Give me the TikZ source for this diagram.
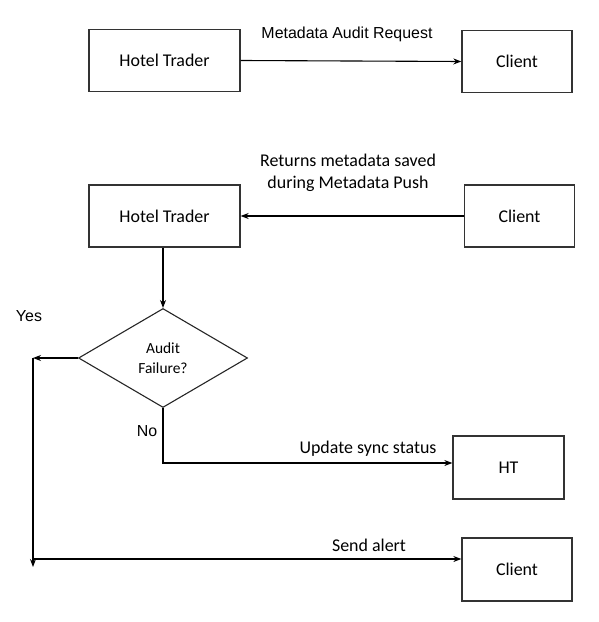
\documentclass[tikz,border=0pt]{standalone}
\usepackage{fontspec}
\setmainfont{Carlito}
\newfontfamily\arialfont{Liberation Sans}
\usetikzlibrary{arrows.meta,shapes.geometric}

\begin{document}
\begin{tikzpicture}[
  x=1bp, y=-1bp,
  every node/.style={font=\fontsize{18}{22}\selectfont, inner sep=0pt},
  actor/.style={draw=black!80, line width=1.3bp, minimum width=110bp, minimum height=62bp},
  wide/.style={actor, minimum width=151bp},
  decision/.style={draw=black!85, line width=1.1bp, diamond, minimum width=169bp, minimum height=99bp,
    font=\fontsize{15.5}{20}\selectfont, align=center},
  msg/.style={anchor=base},
  arial/.style={anchor=base, font=\arialfont\fontsize{16}{19}\selectfont},
  flow/.style={line width=1.1bp, -{Stealth[length=8bp,width=6bp]}},
  >=Stealth
]
\useasboundingbox (0,0) rectangle (599,622);

\node[wide]  (ht1) at (164.5,60.5) {Hotel Trader};
\node[actor] (cl1) at (517,61.5)   {Client};
\node[arial] (req) at (347,38.5)   {Metadata Audit Request};

\draw[flow] (ht1.east) -- (cl1.west);

\node[wide]  (ht2) at (164.5,216) {Hotel Trader};
\node[actor] (cl2) at (519.5,216) {Client};
\node[align=center] (ret) at (348,173) {Returns metadata saved\\during Metadata Push};

\draw[flow] (cl2.west) -- (ht2.east);

\node[decision] (audit) at (163,358) {Audit\\Failure?};
\draw[flow] (ht2.south -| audit.north) -- (audit.north);

\node[arial] (yes) at (29,321)  {Yes};
\node[arial] (no)  at (147,436) {No};

\coordinate (ytop) at (33,358);
\coordinate (ybot) at (33,559);
\coordinate (ncorner) at (163,463);

\node[actor, minimum width=111bp, minimum height=63bp] (ht3) at (508.5,467.5) {HT};
\node[actor, minimum height=63bp] (cl3) at (517,569.5) {Client};

\node[msg] (upd)   at (368,453) {Update sync status};
\node[msg] (alert) at (369,551) {Send alert};

% yes branch
\draw[flow] (audit.west) -- (ytop);
\draw[flow] (ytop) -- (33,567);
\draw[flow] (ybot) -- (ybot -| cl3.west);

% no branch
\draw[flow] (audit.south) -- (ncorner) -- (ncorner -| ht3.west);
\end{tikzpicture}
\end{document}
